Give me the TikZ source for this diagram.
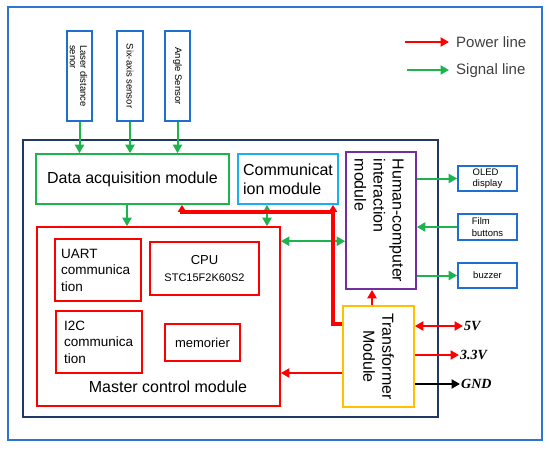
\documentclass[tikz,border=0pt]{standalone}
\usepackage{fontspec}
\setmainfont{Liberation Sans}
\newfontfamily\voltfont{Liberation Serif}
\usetikzlibrary{arrows.meta,positioning,calc}
\definecolor{oblue}{HTML}{2E75D0}
\definecolor{sblue}{HTML}{1F6FD0}
\definecolor{vnavy}{HTML}{203864}
\definecolor{sgreen}{HTML}{1DB34F}
\definecolor{pred}{HTML}{FF0000}
\definecolor{ccyan}{HTML}{1AB0F0}
\definecolor{hpurple}{HTML}{7030A0}
\definecolor{torange}{HTML}{FFC000}
\definecolor{ltext}{HTML}{404040}
\newcommand{\fs}[2]{\fontsize{#1}{#2}\selectfont}
\tikzset{
  blk/.style={draw,line width=1.6pt,inner sep=0pt},
  sensor/.style={blk,draw=sblue,minimum width=25pt,minimum height=90pt},
  periph/.style={blk,draw=sblue,minimum width=59pt,minimum height=25.5pt},
  redbox/.style={blk,draw=pred},
  sig/.style={-{Triangle[length=8.5pt,width=9pt]},line width=2pt,draw=sgreen},
  sigb/.style={{Triangle[length=8.5pt,width=9pt]}-{Triangle[length=8.5pt,width=9pt]},line width=2pt,draw=sgreen},
  pow/.style={-{Triangle[length=8.5pt,width=9pt]},line width=2.2pt,draw=pred},
  powb/.style={{Triangle[length=8.5pt,width=9pt]}-{Triangle[length=8.5pt,width=9pt]},line width=2.2pt,draw=pred},
  bus/.style={-{Triangle[length=7pt,width=8pt]},line width=3.8pt,draw=pred},
  volt/.style={font=\voltfont\bfseries\itshape\fs{14}{16},anchor=west,inner sep=1pt},
  vtxt/.style={rotate=-90,align=center,inner sep=0pt},
}
\begin{document}
\begin{tikzpicture}[x=1pt,y=-1pt]
  \useasboundingbox (0,0) rectangle (550,450);
  \draw[oblue,line width=1.4pt] (8,7) rectangle (542,440);
  \draw[vnavy,line width=1.4pt] (23,140) rectangle (438,417);
  % sensors
  \node[sensor] (laser) at (79.5,76) {};
  \node[vtxt,align=left,font=\fs{9.5}{10.5}] (laser-t) at ([xshift=-1pt]laser) {Laser distance\\senor};
  \node[sensor,minimum width=26pt] (sixaxis) at (130,76) {};
  \node[vtxt,font=\fs{9.5}{11}] (sixaxis-t) at (sixaxis) {Six-axis sensor};
  \node[sensor] (angle) at (177.5,76) {};
  \node[vtxt,font=\fs{9.5}{11}] (angle-t) at (angle) {Angle Sensor};
  % modules
  \node[blk,draw=sgreen,minimum width=193pt,minimum height=50pt,font=\fs{16}{19}] (daq) at (132.5,179) {Data acquisition module};
  \node[blk,draw=ccyan,minimum width=100pt,minimum height=50pt,font=\fs{16}{19},align=left] (comm) at (288,179) {Communicat\\ion module};
  \node[blk,draw=hpurple,minimum width=70pt,minimum height=137pt] (hci) at (381,220.5) {};
  \node[vtxt,font=\fs{16}{19},align=left] (hci-t) at ([xshift=-2pt]hci) {Human-computer\\interaction\\module};
  \node[blk,draw=torange,minimum width=71pt,minimum height=101pt] (trans) at (378.5,356.5) {};
  \node[vtxt,font=\fs{16}{19}] (trans-t) at (trans) {Transformer\\Module};
  \node[redbox,minimum width=243pt,minimum height=179pt] (master) at (158.5,316.5) {};
  \node[font=\fs{16}{19}] (master-t) at (168,387) {Master control module};
  \node[redbox,minimum width=86pt,minimum height=62pt] (uart) at (98,270) {};
  \node[anchor=west,align=left,font=\fs{13.5}{16.5},inner sep=0pt] (uart-t) at (61,270) {UART\\communica\\tion};
  \node[redbox,minimum width=109pt,minimum height=53pt] (cpu) at (204.5,268.5) {};
  \node[align=center,font=\fs{13}{15.5},inner sep=0pt] (cpu-t) at (cpu) {CPU\\[2pt]{\fs{11}{13}STC15F2K60S2}};
  \node[redbox,minimum width=86pt,minimum height=62pt] (i2c) at (99,342) {};
  \node[anchor=west,align=left,font=\fs{13.5}{16.5},inner sep=0pt] (i2c-t) at (64,342) {I2C\\communica\\tion};
  \node[redbox,minimum width=75pt,minimum height=37pt,font=\fs{13}{15}] (mem) at (202.5,342.5) {memorier};
  % peripherals
  \node[periph,font=\fs{9.5}{11.5},align=left] (oled) at (487.5,178.5) {OLED\\display};
  \node[periph,font=\fs{9.5}{11.5},align=left] (film) at (487.5,227) {Film\\buttons};
  \node[periph,font=\fs{9.5}{11.5}] (buzzer) at (487.5,275.5) {buzzer};
  % signal lines
  \draw[sig] (laser.south) -- (laser.south |- daq.north);
  \draw[sig] (sixaxis.south) -- (sixaxis.south |- daq.north);
  \draw[sig] (angle.south) -- (angle.south |- daq.north);
  \draw[sig] ([xshift=-5.5pt]daq.south) -- ([xshift=-5.5pt]daq.south |- master.north);
  \draw[sigb] ([xshift=-21pt]comm.south) -- ([xshift=-21pt]comm.south |- master.north);
  \draw[sigb] ([yshift=-15pt]master.north east) -- ([yshift=-15pt]master.north east -| hci.west);
  \draw[sig] (hci.east |- oled) -- (oled.west);
  \draw[sig] (film.west) -- (hci.east |- film);
  \draw[sig] (hci.east |- buzzer) -- (buzzer.west);
  % power lines
  \coordinate (busB) at (333,212);
  \draw[bus] ([yshift=32.5pt]trans.west) -| ([xshift=45pt]comm.south);
  \draw[bus] (busB) -| ([xshift=49.5pt]daq.south);
  \draw[pow] ([xshift=-6.5pt]trans.north) -- ([xshift=-6.5pt]trans.north |- hci.south);
  \draw[pow] ([yshift=-16.5pt]trans.west) -- ([yshift=-16.5pt]trans.west -| master.east);
  \node[volt] (v5) at (463,326) {5V};
  \node[volt] (v33) at (459,355) {3.3V};
  \node[volt] (gnd) at (460,384) {GND};
  \draw[powb] (trans.east |- v5) -- (v5.west);
  \draw[pow] (trans.east |- v33) -- (v33.west);
  \draw[pow,draw=black] (trans.east |- gnd) -- (gnd.west);
  % legend
  \node[anchor=west,text=ltext,font=\fs{15}{17},inner sep=1pt] (lpow) at (455,42) {Power line};
  \node[anchor=west,text=ltext,font=\fs{15}{17},inner sep=1pt] (lsig) at (455,71) {Signal line};
  \coordinate (lpowS) at (405,42);
  \coordinate (lsigS) at (407,70);
  \draw[pow] (lpowS) -- ([xshift=-6pt]lpow.west);
  \draw[sig] (lsigS) -- ([xshift=-6pt]lsig.west |- lsigS);
\end{tikzpicture}
\end{document}
